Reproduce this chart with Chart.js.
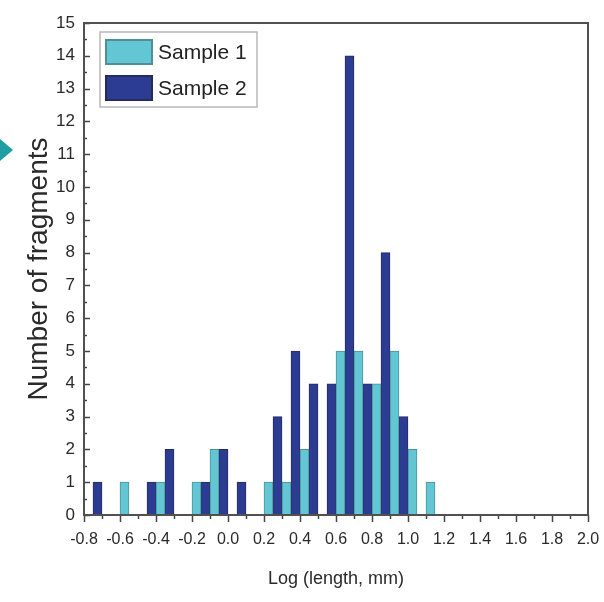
<!DOCTYPE html>
<html>
<head>
<meta charset="utf-8">
<script src="https://cdn.jsdelivr.net/npm/chart.js@4.4.1/dist/chart.umd.min.js"></script>
<style>
  html, body { margin: 0; padding: 0; background: #ffffff; }
  #wrap { width: 604px; height: 602px; position: relative; }
</style>
</head>
<body>
<div id="wrap"><canvas id="c" width="604" height="602"></canvas></div>
<script>
// Bin lower edges (bin width 0.1, log length in mm)
const binStarts = [-0.8,-0.7,-0.6,-0.5,-0.4,-0.3,-0.2,-0.1,0.0,0.1,0.2,0.3,0.4,0.5,0.6,0.7,0.8,0.9,1.0,1.1,1.2,1.3,1.4,1.5,1.6,1.7,1.8,1.9];
const sample1 = [0,0,1,0,1,0,1,2,0,0,1,1,2,0,5,5,4,5,2,1,0,0,0,0,0,0,0,0];
const sample2 = [1,0,0,1,2,0,1,2,1,0,3,5,4,4,14,4,8,3,0,0,0,0,0,0,0,0,0,0];
const seriesNames = ['Sample 1', 'Sample 2'];
const xMin = -0.8, xMax = 2.0, xStep = 0.2;
const yMin = 0, yMax = 15, yStep = 1;
const xTitle = 'Log (length, mm)';
const yTitle = 'Number of fragments';

const BIN_W = 0.1;
const toPoints = arr => binStarts.map((b, i) => ({ x: Math.round((b + BIN_W / 2) * 100) / 100, y: arr[i] }));

const colors = [
  { fill: '#62c6d4', border: '#4f9097' },
  { fill: '#2c3c92', border: '#272b5c' }
];

const FAMILY = "'Liberation Sans', Arial, sans-serif";

const framePlugin = {
  id: 'frame',
  afterDatasetsDraw(chart) {
    const { ctx, chartArea: a, scales } = chart;
    ctx.save();
    ctx.strokeStyle = '#444';
    ctx.lineWidth = 1.5;
    const xs = scales.x, ys = scales.y;
    const nx = Math.round((xMax - xMin) / (xStep / 2));
    for (let i = 0; i <= nx; i++) {
      const v = xMin + i * xStep / 2;
      const px = Math.round(xs.getPixelForValue(v)) + 0.5;
      ctx.beginPath();
      ctx.moveTo(px, a.bottom);
      ctx.lineTo(px, a.bottom + (i % 2 === 0 ? 7 : 4));
      ctx.stroke();
    }
    const ny = Math.round((yMax - yMin) / (yStep / 2));
    for (let j = 0; j <= ny; j++) {
      const v = yMin + j * yStep / 2;
      const py = Math.round(ys.getPixelForValue(v)) + 0.5;
      ctx.beginPath();
      ctx.moveTo(a.left, py);
      ctx.lineTo(a.left + (j % 2 === 0 ? 6 : 3), py);
      ctx.stroke();
    }
    ctx.strokeStyle = '#505050';
    ctx.lineWidth = 2;
    ctx.strokeRect(a.left, a.top, a.right - a.left, a.bottom - a.top);
    ctx.restore();
  },
  afterDraw(chart) {
    const { ctx, chartArea: a } = chart;
    ctx.save();
    const bx = a.left + 16, by = a.top + 9, bw = 157, bh = 75;
    ctx.fillStyle = '#ffffff';
    ctx.fillRect(bx, by, bw, bh);
    ctx.strokeStyle = '#b8b8b8';
    ctx.lineWidth = 1.5;
    ctx.strokeRect(bx, by, bw, bh);
    chart.data.datasets.forEach((ds, i) => {
      const ry = by + 7 + i * 36;
      ctx.fillStyle = ds.backgroundColor;
      ctx.fillRect(bx + 5, ry, 48, 26);
      ctx.strokeStyle = ds.borderColor;
      ctx.lineWidth = 2;
      ctx.strokeRect(bx + 6, ry + 1, 46, 24);
      ctx.fillStyle = '#222';
      ctx.font = "21px " + FAMILY;
      ctx.textBaseline = 'middle';
      ctx.textAlign = 'left';
      ctx.fillText(ds.label, bx + 58, ry + 14);
    });
    ctx.fillStyle = '#1f9ea3';
    ctx.beginPath();
    ctx.moveTo(0, 139);
    ctx.lineTo(13, 150);
    ctx.lineTo(0, 161);
    ctx.closePath();
    ctx.fill();
    ctx.restore();
  }
};

new Chart(document.getElementById('c'), {
  type: 'bar',
  data: {
    datasets: [0, 1].map(i => ({
      label: seriesNames[i],
      data: toPoints(i === 0 ? sample1 : sample2),
      backgroundColor: colors[i].fill,
      borderColor: colors[i].border,
      borderWidth: c => (c.raw && c.raw.y > 0 ? 1 : 0),
      borderSkipped: 'bottom',
      barPercentage: 1.0,
      categoryPercentage: 1.0
    }))
  },
  options: {
    responsive: false,
    animation: false,
    layout: { padding: { top: 23, right: 4, bottom: 0, left: 0 } },
    plugins: { legend: { display: false }, tooltip: { enabled: false } },
    scales: {
      x: {
        type: 'linear',
        min: xMin, max: xMax,
        offset: false,
        grid: { display: false, drawTicks: false },
        border: { display: false },
        afterFit(s) { s.height = 87; s.paddingRight = 16; s.paddingLeft = 0; },
        ticks: {
          stepSize: xStep,
          autoSkip: false,
          maxRotation: 0,
          padding: 15,
          color: '#2a2a2a',
          font: { family: FAMILY, size: 16 },
          callback: v => (Math.round(v * 10) / 10).toFixed(1)
        },
        title: {
          display: true,
          text: xTitle,
          color: '#2a2a2a',
          font: { family: FAMILY, size: 18 },
          padding: { top: 0, bottom: 12 }
        }
      },
      y: {
        min: yMin, max: yMax,
        grid: { display: false, drawTicks: false },
        border: { display: false },
        afterFit(s) { s.width = 84; },
        ticks: {
          stepSize: yStep,
          autoSkip: false,
          padding: 9,
          color: '#2a2a2a',
          font: { family: FAMILY, size: 17 }
        },
        title: {
          display: true,
          text: yTitle,
          color: '#2a2a2a',
          font: { family: FAMILY, size: 28 },
          padding: { top: 22, bottom: 0 }
        }
      }
    }
  },
  plugins: [framePlugin]
});
</script>
</body>
</html>
